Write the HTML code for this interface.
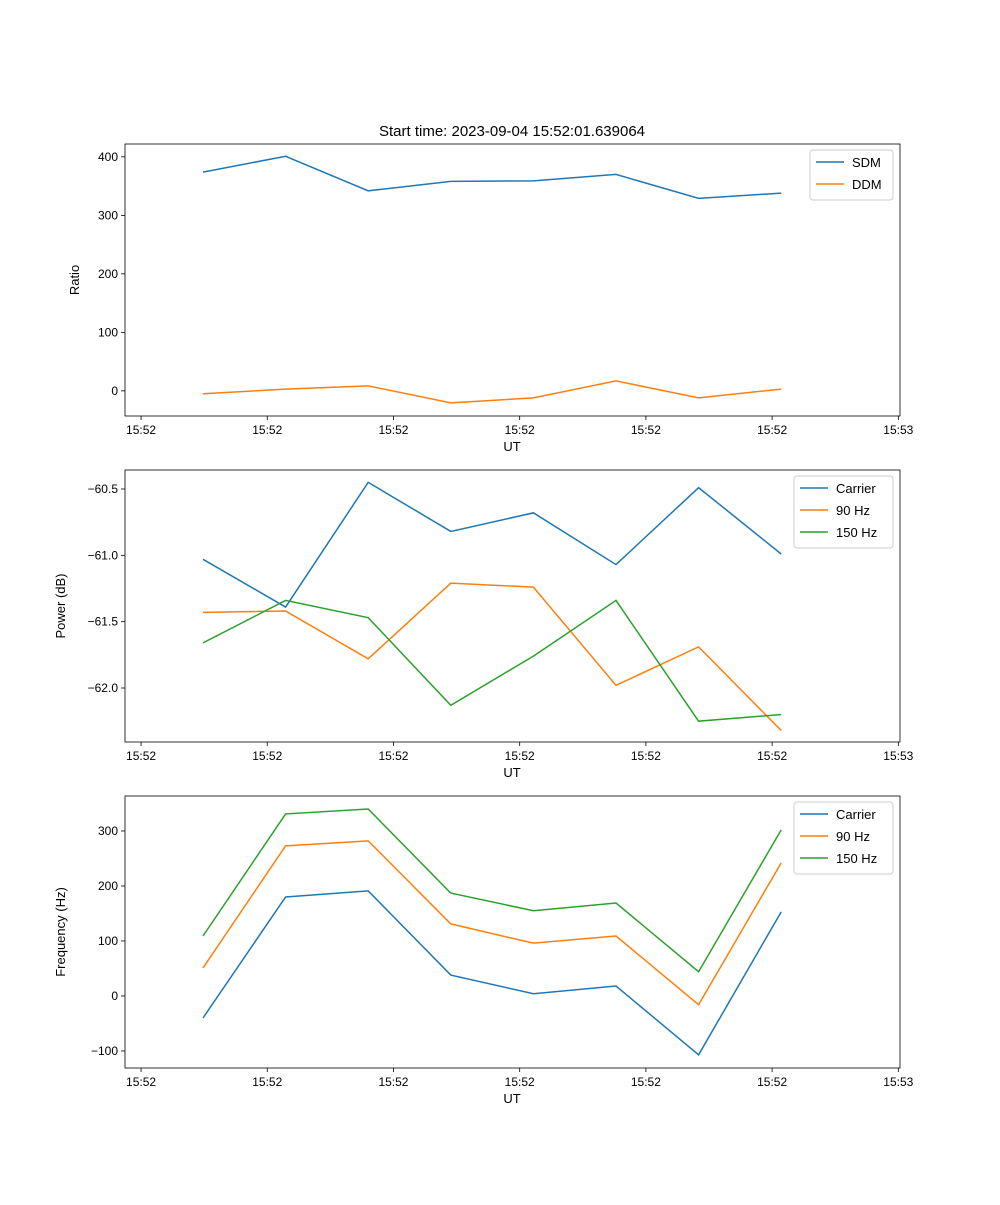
<!DOCTYPE html>
<html><head><meta charset="utf-8"><style>
body{margin:0;background:#fff}
svg{font-family:"Liberation Sans","DejaVu Sans",sans-serif}
</style></head><body>
<svg id="fig" width="1000" height="1200" xmlns="http://www.w3.org/2000/svg"></svg>
<script>
const pointTimes = [0,1,2,3,4,5,6,7];
const tickTimes = [-0.75,0.778,2.306,3.834,5.362,6.89,8.418];
const tickLabels = ["15:52","15:52","15:52","15:52","15:52","15:52","15:53"];
const sdm = [374,401,342,358,359,370,329,338];
const ddm = [-5,3,8.5,-20.5,-12,17,-12,3];
const powCarrier = [-61.03,-61.39,-60.45,-60.82,-60.68,-61.07,-60.49,-60.99];
const pow90 = [-61.43,-61.42,-61.78,-61.21,-61.24,-61.98,-61.69,-62.32];
const pow150 = [-61.66,-61.34,-61.47,-62.13,-61.76,-61.34,-62.25,-62.20];
const freqCarrier = [-40,180,191,38,4,18,-107,153];
const freq90 = [51,273,282,131,96,109,-16,242];
const freq150 = [109,331,340,187,155,169,44,302];
const ratioTicks = [0,100,200,300,400];
const powTicks = [-62.0,-61.5,-61.0,-60.5];
const freqTicks = [-100,0,100,200,300];

const svg=document.getElementById('fig');
const NS='http://www.w3.org/2000/svg';
function mk(tag,attrs,parent){const e=document.createElementNS(NS,tag);for(const k in attrs)e.setAttribute(k,attrs[k]);(parent||svg).appendChild(e);return e;}
const X0=125,X1=900;
const xs=t=>203+(t-0)*82.6;

function panel(name,top,bot,ymin,ymax,yticks,fmt,series,ylabel,legend,title){
  const g=mk('g',{});
  
  
  const ys=v=>bot-(v-ymin)/(ymax-ymin)*(bot-top);
  if(title){const t=mk('text',{x:512,y:top-8,'text-anchor':'middle','font-size':15},g);t.textContent=title;
    }
  tickTimes.forEach((tt,i)=>{const x=xs(tt);mk('line',{x1:x,x2:x,y1:bot,y2:bot+4,stroke:'#000','stroke-width':0.8},g);
    const t=mk('text',{x:x,y:bot+18,'text-anchor':'middle','font-size':12},g);t.textContent=tickLabels[i];
    });
  yticks.forEach(v=>{const y=ys(v);mk('line',{x1:X0-4,x2:X0,y1:y,y2:y,stroke:'#000','stroke-width':0.8},g);
    const t=mk('text',{x:X0-7,y:y+4,'text-anchor':'end','font-size':12},g);t.textContent=fmt(v);
    });
  const xl=mk('text',{x:512,y:bot+35,'text-anchor':'middle','font-size':13},g);xl.textContent='UT';
  
  const yl=mk('text',{x:0,y:0,'text-anchor':'middle','font-size':13,transform:`translate(${X0-60+(ylabel==='Ratio'?14:0)},${(top+bot)/2}) rotate(-90)`},g);yl.textContent=ylabel;
  
  series.forEach(s=>{const p=mk('polyline',{points:s.data.map((v,i)=>xs(pointTimes[i])+','+ys(v)).join(' '),fill:'none',stroke:s.c,'stroke-width':1.5},g);
    });
  mk('rect',{x:X0,y:top,width:X1-X0,height:bot-top,fill:'none',stroke:'#000','stroke-width':0.8},g);
  const lg=mk('g',{},g);
  mk('rect',{x:legend.x,y:top+6,width:legend.w,height:series.length*22+6,fill:'#fff',stroke:'#ccc',rx:3},lg);
  series.forEach((s,i)=>{const y=top+18+i*22;mk('line',{x1:legend.x+6,x2:legend.x+34,y1:y,y2:y,stroke:s.c,'stroke-width':1.5},lg);
    const t=mk('text',{x:legend.x+42,y:y+5,'font-size':13},lg);t.textContent=s.n;
    });
}
const B='#1f77b4',O='#ff7f0e',G='#2ca02c';
panel('ratio-panel',144,416,-43,422,ratioTicks,v=>String(v),[{n:'SDM',data:sdm,c:B},{n:'DDM',data:ddm,c:O}],'Ratio',{x:810,w:83},'Start time: 2023-09-04 15:52:01.639064');
panel('power-panel',470,742,-62.407,-60.357,powTicks,v=>'\u2212'+Math.abs(v).toFixed(1),[{n:'Carrier',data:powCarrier,c:B},{n:'90 Hz',data:pow90,c:O},{n:'150 Hz',data:pow150,c:G}],'Power (dB)',{x:794,w:99});
panel('frequency-panel',796,1068,-131,363.6,freqTicks,v=>v<0?'\u2212'+Math.abs(v):String(v),[{n:'Carrier',data:freqCarrier,c:B},{n:'90 Hz',data:freq90,c:O},{n:'150 Hz',data:freq150,c:G}],'Frequency (Hz)',{x:794,w:99});
</script>
</body></html>
